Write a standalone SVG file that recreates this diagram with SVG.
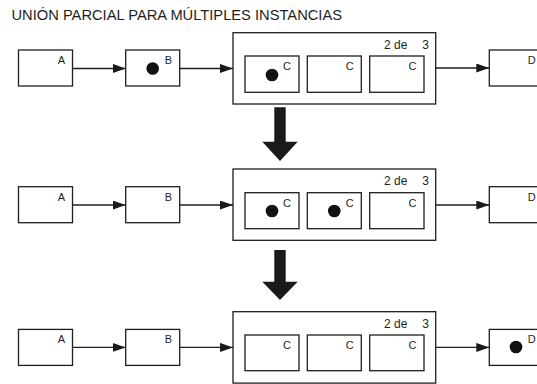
<svg xmlns="http://www.w3.org/2000/svg" width="537" height="384" viewBox="0 0 537 384">
<defs>
<style>
.box{fill:#fff;stroke:#1e1e1e;stroke-width:1.3}
.lbl{font-family:"Liberation Sans",Arial,sans-serif;font-size:11px;fill:#1e1e1e;text-anchor:end}
.cnt{font-family:"Liberation Sans",Arial,sans-serif;font-size:12px;fill:#1e1e1e}
.title{font-family:"Liberation Sans",Arial,sans-serif;font-size:14.7px;fill:#1e1e1e}
.dot{fill:#111}
.edge{fill:none;stroke:#1e1e1e;stroke-width:1.3;marker-end:url(#ah)}
.big{fill:#1a1a1a}
</style>
<marker id="ah" markerUnits="userSpaceOnUse" markerWidth="14" markerHeight="10" refX="13" refY="4.5" orient="auto">
<path d="M0,0 L13,4.5 L0,9 z" fill="#1a1a1a"/>
</marker>
</defs>
<rect width="537" height="384" fill="#fff"/>
<text class="title" x="11.5" y="19.5">UNIÓN PARCIAL PARA MÚLTIPLES INSTANCIAS</text>

<!-- Row 1 -->
<g id="r1-A"><rect class="box" x="18.5" y="50" width="54" height="36"/><text class="lbl" x="65" y="63.8">A</text></g>
<g id="r1-B"><rect class="box" x="125.7" y="50" width="54" height="36"/><circle class="dot" cx="152.7" cy="68.5" r="6.3"/><text class="lbl" x="172.2" y="63.8">B</text></g>
<g id="r1-container"><rect class="box" x="233" y="32.7" width="202.7" height="71.3"/><text class="cnt" x="384" y="48.8" xml:space="preserve">2 de <tspan x="422.3">3</tspan></text>
<g id="r1-C1"><rect class="box" x="245" y="56" width="54" height="36.3"/><circle class="dot" cx="272" cy="75" r="6.3"/><text class="lbl" x="291" y="69.8">C</text></g>
<g id="r1-C2"><rect class="box" x="307.3" y="56" width="54" height="36.3"/><text class="lbl" x="353.6" y="69.8">C</text></g>
<g id="r1-C3"><rect class="box" x="369.7" y="56" width="54.3" height="36.3"/><text class="lbl" x="416.5" y="69.8">C</text></g>
</g>
<g id="r1-D"><rect class="box" x="489.3" y="50" width="54" height="36"/><text class="lbl" x="535.8" y="63.8">D</text></g>

<!-- Row 2 -->
<g id="r2-A"><rect class="box" x="18.5" y="186.7" width="54" height="36"/><text class="lbl" x="65" y="200.5">A</text></g>
<g id="r2-B"><rect class="box" x="125.7" y="186.7" width="54" height="36"/><text class="lbl" x="172.2" y="200.5">B</text></g>
<g id="r2-container"><rect class="box" x="233" y="169" width="202.7" height="71.3"/><text class="cnt" x="384" y="185.3" xml:space="preserve">2 de <tspan x="422.3">3</tspan></text>
<g id="r2-C1"><rect class="box" x="245" y="192.7" width="54" height="36"/><circle class="dot" cx="272" cy="211" r="6.3"/><text class="lbl" x="291" y="206.5">C</text></g>
<g id="r2-C2"><rect class="box" x="307.3" y="192.7" width="54" height="36"/><circle class="dot" cx="334.3" cy="211" r="6.3"/><text class="lbl" x="353.6" y="206.5">C</text></g>
<g id="r2-C3"><rect class="box" x="369.7" y="192.7" width="54.3" height="36"/><text class="lbl" x="416.5" y="206.5">C</text></g>
</g>
<g id="r2-D"><rect class="box" x="489.3" y="186.7" width="54" height="36"/><text class="lbl" x="535.8" y="200.5">D</text></g>

<!-- Row 3 -->
<g id="r3-A"><rect class="box" x="18.5" y="329.4" width="54" height="36"/><text class="lbl" x="65" y="343.2">A</text></g>
<g id="r3-B"><rect class="box" x="125.7" y="329.4" width="54" height="36"/><text class="lbl" x="172.2" y="343.2">B</text></g>
<g id="r3-container"><rect class="box" x="233" y="311.7" width="202.7" height="71.4"/><text class="cnt" x="384" y="328" xml:space="preserve">2 de <tspan x="422.3">3</tspan></text>
<g id="r3-C1"><rect class="box" x="245" y="335" width="54" height="35.7"/><text class="lbl" x="291" y="349">C</text></g>
<g id="r3-C2"><rect class="box" x="307.3" y="335" width="54" height="35.7"/><text class="lbl" x="353.6" y="349">C</text></g>
<g id="r3-C3"><rect class="box" x="369.7" y="335" width="54.3" height="35.7"/><text class="lbl" x="416.5" y="349">C</text></g>
</g>
<g id="r3-D"><rect class="box" x="489.3" y="329.4" width="54" height="36"/><circle class="dot" cx="516" cy="347" r="6.3"/><text class="lbl" x="535.8" y="343.2">D</text></g>

<!-- Connectors -->
<g id="connectors">
<path class="edge" d="M72.5,68.5 H125.7"/>
<path class="edge" d="M179.7,68.5 H233"/>
<path class="edge" d="M435.7,68 H489.3"/>
<path class="edge" d="M72.5,205 H125.7"/>
<path class="edge" d="M179.7,205 H233"/>
<path class="edge" d="M435.7,205 H489.3"/>
<path class="edge" d="M72.5,347.4 H125.7"/>
<path class="edge" d="M179.7,347.4 H233"/>
<path class="edge" d="M435.7,347.4 H489.3"/>
<path class="big" d="M274.3,107.3 H285.7 V141.7 H297.7 L280,161 L262.3,141.7 H274.3 Z"/>
<path class="big" d="M274.3,250 H285.7 V281.7 H297.7 L280,300 L262.3,281.7 H274.3 Z"/>
</g>
</svg>
